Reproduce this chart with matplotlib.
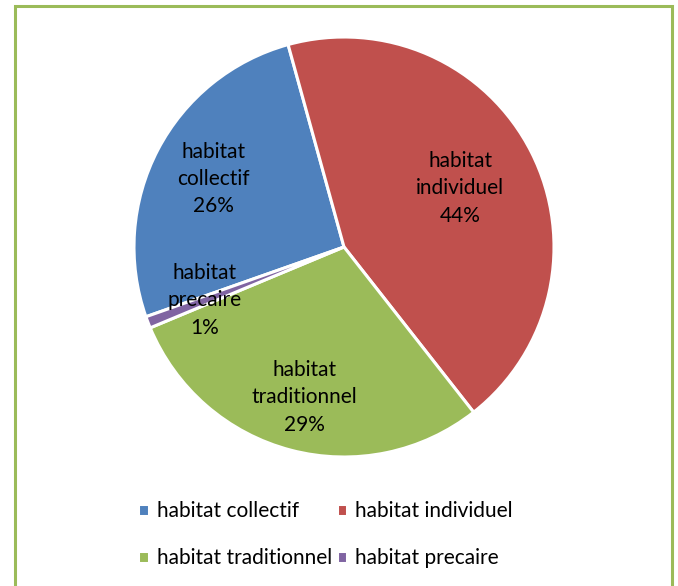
import matplotlib
matplotlib.use("Agg")
import matplotlib.pyplot as plt
import numpy as np
from matplotlib.patches import Rectangle

categories = ["habitat collectif", "habitat individuel", "habitat traditionnel", "habitat precaire"]
label_lines = ["habitat\ncollectif", "habitat\nindividuel", "habitat\ntraditionnel", "habitat\nprecaire"]
values = [26.1, 43.7, 29.3, 0.9]
colors = ["#4F81BD", "#C0504D", "#9BBB59", "#8064A2"]
label_dist = [0.70, 0.62, 0.74, 0.71]

plt.rcParams['font.family'] = ['Lato', 'DejaVu Sans']

W, H = 678, 586
fig = plt.figure(figsize=(W/100, H/100), dpi=100)

cx, cy, r = 344, 247, 210
ax = fig.add_axes([(cx - r)/W, (H - cy - r)/H, 2*r/W, 2*r/H])
wedges, _ = ax.pie(values, colors=colors, startangle=-160.6, counterclock=False,
                   radius=1, wedgeprops=dict(edgecolor='white', linewidth=2.2))
ax.set_xlim(-1.0, 1.0)
ax.set_ylim(-1.0, 1.0)
ax.set_aspect('equal')
ax.axis('off')

total = sum(values)
for w, lab, v, d in zip(wedges, label_lines, values, label_dist):
    ang = np.deg2rad((w.theta1 + w.theta2) / 2)
    ax.text(d*np.cos(ang), d*np.sin(ang), f"{lab}\n{v/total*100:.0f}%",
            ha='center', va='center', fontsize=15, color='black', linespacing=1.45)

# legend filled row by row (matplotlib fills column-wise, so reorder)
order = [0, 2, 1, 3]
fig.legend([wedges[i] for i in order], [categories[i] for i in order],
           loc='upper left', bbox_to_anchor=(130/W, 1 - 493/H),
           ncol=2, frameon=False, fontsize=15, handlelength=0.5, handleheight=0.5,
           handletextpad=0.4, columnspacing=0.2, labelspacing=1.3, borderaxespad=0)

# outer frame
fig.add_artist(Rectangle((15/W, -0.05), (672-15)/W, 1.05 - 6/H, transform=fig.transFigure,
                         fill=False, edgecolor="#9BBB59", linewidth=2.2))

fig.savefig("out.png", dpi=100)
